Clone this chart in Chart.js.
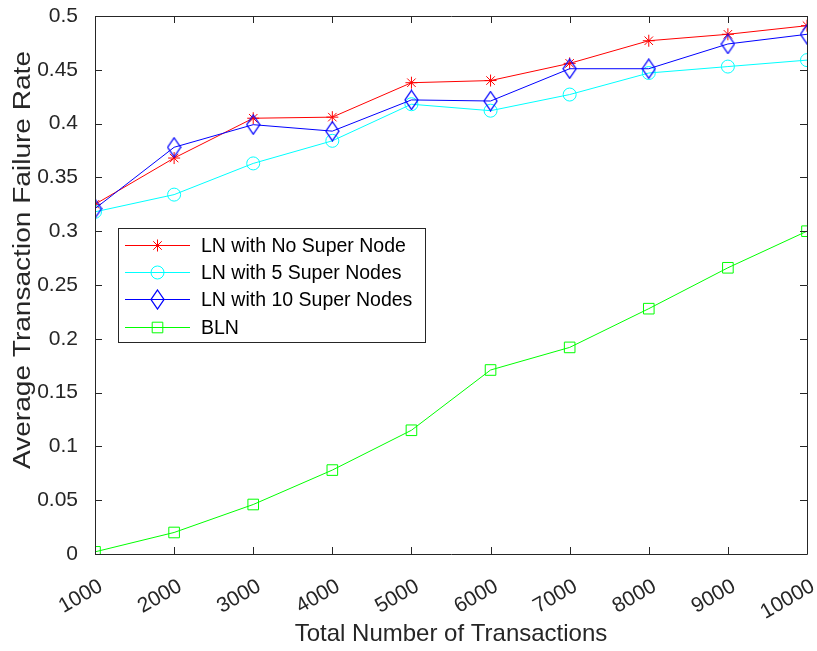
<!DOCTYPE html>
<html>
<head>
<meta charset="utf-8">
<script src="https://cdn.jsdelivr.net/npm/chart.js@4.4.0/dist/chart.umd.min.js"></script>
<style>
  body { margin: 0; background: #fff; }
</style>
</head>
<body>
<canvas id="failChart" width="817" height="651"></canvas>
<script>
// data
var transactions = [1000, 2000, 3000, 4000, 5000, 6000, 7000, 8000, 9000, 10000];
var noSuperNode = [0.325, 0.368, 0.405, 0.406, 0.438, 0.440, 0.456, 0.477, 0.483, 0.491];
var fiveSuperNodes = [0.318, 0.334, 0.363, 0.384, 0.418, 0.412, 0.427, 0.447, 0.453, 0.459];
var tenSuperNodes = [0.321, 0.378, 0.399, 0.393, 0.422, 0.421, 0.451, 0.451, 0.474, 0.483];
var blnValues = [0.002, 0.020, 0.046, 0.078, 0.115, 0.171, 0.192, 0.228, 0.266, 0.300];
var yTicks = [0, 0.05, 0.1, 0.15, 0.2, 0.25, 0.3, 0.35, 0.4, 0.45, 0.5];
var yTitle = 'Average Transaction Failure Rate';

var axisColor = '#262626';
var fontName = '"Liberation Sans", Arial, Helvetica, sans-serif';

function pairs(vals) {
    return transactions.map(function (t, i) { return { x: t, y: vals[i] }; });
}

// tall diamond like matlab's 'd' marker
function diamondMarker(color) {
    var c = document.createElement('canvas');
    c.width = 15; c.height = 21;
    var g = c.getContext('2d');
    g.strokeStyle = color;
    g.lineWidth = 1.3;
    g.beginPath();
    g.moveTo(7.5, 1);
    g.lineTo(14, 10.5);
    g.lineTo(7.5, 20);
    g.lineTo(1, 10.5);
    g.closePath();
    g.stroke();
    return c;
}

var series = [
    { label: 'LN with No Super Node', data: noSuperNode, color: '#ff0000', style: 'star', radius: 6 },
    { label: 'LN with 5 Super Nodes', data: fiveSuperNodes, color: '#00ffff', style: 'circle', radius: 6.5 },
    { label: 'LN with 10 Super Nodes', data: tenSuperNodes, color: '#0000ff', style: diamondMarker('#0000ff'), radius: 8 },
    { label: 'BLN', data: blnValues, color: '#00ff00', style: 'rect', radius: 7.5 }
];

var datasets = series.map(function (s, i) {
    return {
        label: s.label,
        data: pairs(s.data),
        borderColor: s.color,
        backgroundColor: 'rgba(0,0,0,0)',
        borderWidth: 1,
        tension: 0,
        pointStyle: s.style,
        pointRadius: s.radius,
        pointHoverRadius: s.radius,
        pointBorderWidth: 1,
        pointBorderColor: s.color,
        pointBackgroundColor: 'rgba(0,0,0,0)',
        order: series.length - i
    };
});

// box, inward ticks, y title and the legend inside the axes
var matlabAxes = {
    id: 'matlabAxes',
    afterDraw: function (chart) {
        var ctx = chart.ctx;
        var a = chart.chartArea;
        var xs = chart.scales.x, ys = chart.scales.y;
        ctx.save();
        ctx.strokeStyle = axisColor;
        ctx.lineWidth = 1;
        ctx.beginPath();
        ctx.rect(Math.round(a.left) + 0.5, Math.round(a.top) + 0.5, Math.round(a.right - a.left), Math.round(a.bottom - a.top));
        ctx.stroke();
        var tl = 7;
        ctx.beginPath();
        transactions.forEach(function (t) {
            var px = Math.round(xs.getPixelForValue(t)) + 0.5;
            ctx.moveTo(px, a.bottom); ctx.lineTo(px, a.bottom - tl);
            ctx.moveTo(px, a.top); ctx.lineTo(px, a.top + tl);
        });
        yTicks.forEach(function (v) {
            var py = Math.round(ys.getPixelForValue(v)) + 0.5;
            ctx.moveTo(a.left, py); ctx.lineTo(a.left + tl, py);
            ctx.moveTo(a.right, py); ctx.lineTo(a.right - tl, py);
        });
        ctx.stroke();

        // y title, stretched along its length like the original export
        ctx.save();
        ctx.font = '23px ' + fontName;
        ctx.fillStyle = axisColor;
        ctx.textAlign = 'center';
        ctx.textBaseline = 'middle';
        var tw = ctx.measureText(yTitle).width;
        ctx.translate(24, 260);
        ctx.rotate(-Math.PI / 2);
        ctx.scale(418 / tw, 1);
        ctx.fillText(yTitle, 0, 0);
        ctx.restore();

        // legend
        var bx = 118.5, by = 228.5, bw = 307, bh = 114;
        ctx.fillStyle = '#ffffff';
        ctx.fillRect(bx, by, bw, bh);
        ctx.strokeStyle = axisColor;
        ctx.strokeRect(bx, by, bw, bh);
        ctx.font = '19.5px ' + fontName;
        ctx.textBaseline = 'middle';
        ctx.textAlign = 'left';
        series.forEach(function (s, i) {
            var ry = Math.round(245 + i * 27.2) + 0.5;
            ctx.strokeStyle = s.color;
            ctx.fillStyle = 'rgba(0,0,0,0)';
            ctx.lineWidth = 1;
            ctx.beginPath();
            ctx.moveTo(125, ry); ctx.lineTo(190, ry);
            ctx.stroke();
            Chart.helpers.drawPoint(ctx, {
                pointStyle: s.style, radius: s.radius, borderWidth: 1, rotation: 0
            }, 157.5, ry);
            ctx.fillStyle = '#000000';
            ctx.fillText(s.label, 201, ry + 1);
        });
        ctx.restore();
    }
};

new Chart(document.getElementById('failChart').getContext('2d'), {
    type: 'line',
    data: { datasets: datasets },
    plugins: [matlabAxes],
    options: {
        responsive: false,
        animation: false,
        layout: { padding: { top: 16, right: 10, left: 0, bottom: 0 } },
        plugins: { legend: { display: false }, tooltip: { enabled: false } },
        scales: {
            x: {
                type: 'linear',
                min: 1000,
                max: 10000,
                afterFit: function (scale) {
                    scale.height = 97;
                    scale.paddingLeft = 0;
                    scale.paddingRight = 0;
                },
                afterBuildTicks: function (scale) {
                    scale.ticks = transactions.map(function (t) { return { value: t }; });
                },
                grid: { display: false },
                border: { display: false },
                ticks: {
                    maxRotation: 30, minRotation: 30,
                    padding: 12,
                    labelOffset: 6,
                    color: axisColor,
                    font: { family: fontName, size: 21 },
                    callback: function (v) { return String(v); }
                },
                title: {
                    display: true,
                    text: 'Total Number of Transactions',
                    color: axisColor,
                    font: { family: fontName, size: 24 },
                    padding: { top: 0, bottom: 2 }
                }
            },
            y: {
                min: 0,
                max: 0.5,
                afterFit: function (scale) {
                    scale.width = 95;
                    scale.paddingTop = 0;
                    scale.paddingBottom = 0;
                },
                afterBuildTicks: function (scale) {
                    scale.ticks = yTicks.map(function (v) { return { value: v }; });
                },
                grid: { display: false },
                border: { display: false },
                ticks: {
                    padding: 9,
                    color: axisColor,
                    font: { family: fontName, size: 21 },
                    callback: function (v) { return String(v); }
                }
            }
        }
    }
});
</script>
</body>
</html>
